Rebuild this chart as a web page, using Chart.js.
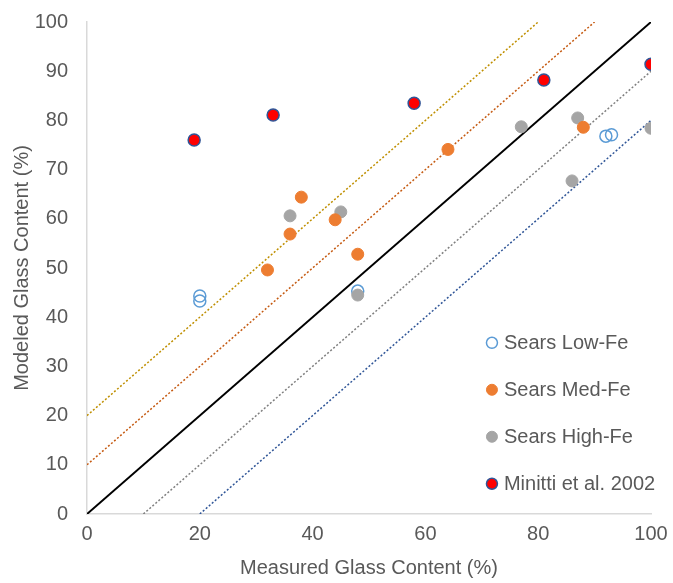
<!DOCTYPE html>
<html>
<head>
<meta charset="utf-8">
<script src="https://cdn.jsdelivr.net/npm/chart.js@4/dist/chart.umd.min.js"></script>
<style>
  html, body { margin: 0; padding: 0; background: #ffffff; }
  #wrap { position: relative; width: 673px; height: 583px; }
</style>
</head>
<body>
<div id="wrap"><canvas id="c" width="673" height="583"></canvas></div>
<script>
// ---- Data ----
const seriesNames = ["Sears Low-Fe", "Sears Med-Fe", "Sears High-Fe", "Minitti et al. 2002"];

const lowFeX = [20, 20, 48, 92, 93];
const lowFeY = [44.3, 43.3, 45.3, 76.8, 77.1];

const medFeX = [32, 36, 38, 44, 48, 64, 88];
const medFeY = [49.6, 56.9, 64.4, 59.8, 52.8, 74.1, 78.6];

const highFeX = [36, 45, 48, 77, 87, 86, 100];
const highFeY = [60.6, 61.4, 44.5, 78.7, 80.5, 67.7, 78.4];

const minittiX = [19, 33, 58, 81, 100];
const minittiY = [76, 81.1, 83.5, 88.2, 91.4];

// 1:1 reference line and offset lines (modeled = measured + offset)
const refOffsets = [20, 10, 0, -10, -20];
const axisMin = 0, axisMax = 100;
const xTicks = [0, 20, 40, 60, 80, 100];
const yTicks = [0, 10, 20, 30, 40, 50, 60, 70, 80, 90, 100];

// ---- Build library structures ----
function pts(xs, ys) { return xs.map((x, i) => ({ x: x, y: ys[i] })); }
function refLine(off) {
  const x0 = Math.max(axisMin, axisMin - off);
  const x1 = Math.min(axisMax, axisMax - off);
  return [{ x: x0, y: x0 + off }, { x: x1, y: x1 + off }];
}

const lineStyles = {
  "20": { color: "#BF8F00", dash: [2, 2], width: 1.5 },
  "10": { color: "#C55A11", dash: [2, 2], width: 1.5 },
  "0": { color: "#000000", dash: [], width: 2 },
  "-10": { color: "#7F7F7F", dash: [2, 2], width: 1.5 },
  "-20": { color: "#2F5597", dash: [2, 2], width: 1.5 }
};

const font = "'Liberation Sans', Arial, sans-serif";
const textColor = "#595959";

const pointSets = [
  { label: seriesNames[0], data: pts(lowFeX, lowFeY), backgroundColor: "rgba(0,0,0,0)", borderColor: "#5B9BD5", borderWidth: 1.5, pointRadius: 6, order: 3 },
  { label: seriesNames[1], data: pts(medFeX, medFeY), backgroundColor: "#ED7D31", borderColor: "#ED7D31", borderWidth: 1, pointRadius: 6, order: 1 },
  { label: seriesNames[2], data: pts(highFeX, highFeY), backgroundColor: "#A5A5A5", borderColor: "#A5A5A5", borderWidth: 1, pointRadius: 6, order: 2 },
  { label: seriesNames[3], data: pts(minittiX, minittiY), backgroundColor: "#FF0000", borderColor: "#2F5597", borderWidth: 1.5, pointRadius: 6, order: 0 }
];

const lineSets = refOffsets.map((off, i) => {
  const st = lineStyles[String(off)];
  return {
    label: "ref" + off,
    isRef: true,
    type: "line",
    data: refLine(off),
    borderColor: st.color,
    borderDash: st.dash,
    borderWidth: st.width,
    pointRadius: 0,
    fill: false,
    tension: 0,
    order: 10 + i
  };
});

const legendPlugin = {
  id: "insideLegend",
  afterDraw(chart) {
    const ctx = chart.ctx;
    const xs = chart.scales.x, ys = chart.scales.y;
    const markerX = xs.getPixelForValue(71.8);
    const textX = markerX + 12;
    const startY = ys.getPixelForValue(34.8);
    const step = ys.getPixelForValue(0) - ys.getPixelForValue(9.55);
    ctx.save();
    ctx.font = "20px " + font;
    ctx.textBaseline = "middle";
    ctx.textAlign = "left";
    pointSets.forEach((ds, i) => {
      const y = startY + i * step;
      ctx.beginPath();
      ctx.arc(markerX, y, 5.5, 0, Math.PI * 2);
      if (ds.backgroundColor !== "rgba(0,0,0,0)") {
        ctx.fillStyle = ds.backgroundColor;
        ctx.fill();
      }
      ctx.lineWidth = ds.borderWidth;
      ctx.strokeStyle = ds.borderColor;
      ctx.stroke();
      ctx.fillStyle = textColor;
      ctx.fillText(ds.label, textX, y + 1);
    });
    ctx.restore();
  }
};

new Chart(document.getElementById("c"), {
  type: "scatter",
  data: { datasets: pointSets.concat(lineSets) },
  options: {
    responsive: false,
    animation: false,
    devicePixelRatio: 1,
    layout: { padding: { top: 22, right: 22, left: 0, bottom: 0 } },
    plugins: { legend: { display: false }, tooltip: { enabled: false } },
    scales: {
      x: {
        type: "linear",
        min: axisMin, max: axisMax,
        afterBuildTicks: (s) => { s.ticks = xTicks.map(v => ({ value: v })); },
        afterFit: (s) => { s.height = 69; },
        grid: { display: false, drawTicks: true, tickLength: 8 },
        border: { display: true, color: "#D9D9D9", width: 1.5 },
        ticks: { color: textColor, font: { size: 20, family: font }, padding: 0, maxRotation: 0 },
        title: { display: true, text: "Measured Glass Content (%)", color: textColor, font: { size: 20, family: font }, padding: { top: 0, bottom: 3 } }
      },
      y: {
        type: "linear",
        min: axisMin, max: axisMax,
        afterBuildTicks: (s) => { s.ticks = yTicks.map(v => ({ value: v })); },
        afterFit: (s) => { s.width = 87; },
        grid: { display: false, drawTicks: true, tickLength: 19 },
        border: { display: true, color: "#D9D9D9", width: 1.5 },
        ticks: { color: textColor, font: { size: 20, family: font }, padding: 0 },
        title: { display: true, text: "Modeled Glass Content (%)", color: textColor, font: { size: 20, family: font }, padding: { top: 10, bottom: 0 } }
      }
    }
  },
  plugins: [legendPlugin]
});
</script>
</body>
</html>
